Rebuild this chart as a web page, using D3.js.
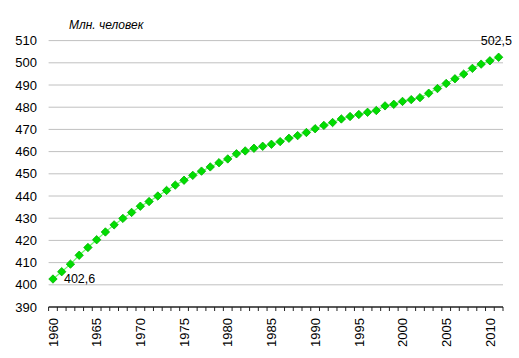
<!DOCTYPE html>
<html><head><meta charset="utf-8">
<script src="https://cdn.jsdelivr.net/npm/d3@7"></script>
<style>body{margin:0;background:#fff}svg{display:block;font-family:Arial,"Liberation Sans",sans-serif}</style>
</head><body><svg id="c" width="519" height="358"></svg>
<script>
const years = d3.range(1960, 2012);
const population = [402.6,405.9,409.3,413.3,416.8,420.3,423.8,427.0,429.9,432.6,
435.4,437.5,440.0,442.5,444.9,447.1,449.3,451.2,453.1,455.0,
456.7,459.0,460.3,461.5,462.4,463.3,464.5,466.0,467.2,468.6,
470.3,471.8,473.1,474.7,475.8,476.7,477.7,478.5,480.6,481.3,
482.6,483.4,484.3,486.3,488.4,490.7,492.8,494.9,497.5,499.4,
500.9,502.5];
const yTicks = [390,400,410,420,430,440,450,460,470,480,490,500,510];
const xLabelYears = [1960,1965,1970,1975,1980,1985,1990,1995,2000,2005,2010];
const unitLabel = "Млн. человек";

const svg = d3.select("#c");
const mLeft = 48.6, mRight = 503, mTop = 40.6, mBottom = 307;
const x = d3.scaleBand().domain(years).range([mLeft, mRight]);
const y = d3.scaleLinear().domain([390, 510]).range([mBottom, mTop]);
const cx = d => x(d) + x.bandwidth()/2;

// grid
svg.append("g").selectAll("line").data(yTicks.filter(t=>t>390)).join("line")
  .attr("x1", mLeft).attr("x2", mRight).attr("y1", d=>y(d)).attr("y2", d=>y(d))
  .attr("stroke", "#c0c0c0").attr("stroke-width", 1);

// y labels
svg.append("g").selectAll("text").data(yTicks).join("text")
  .attr("x", 37).attr("y", d=>y(d)).attr("dy", "0.35em").attr("text-anchor","end")
  .attr("font-size", 13).attr("fill","#000").text(d=>d);

// x axis line + ticks at band boundaries
svg.append("line").attr("x1", mLeft).attr("x2", mRight).attr("y1", mBottom).attr("y2", mBottom)
  .attr("stroke", "#222").attr("stroke-width", 1.3);
const bounds = years.map(d=>x(d)).concat([x(years[years.length-1]) + x.bandwidth()]);
svg.append("g").selectAll("line").data(bounds).join("line")
  .attr("x1", d=>d).attr("x2", d=>d).attr("y1", mBottom).attr("y2", mBottom+4)
  .attr("stroke", "#222").attr("stroke-width", 1);

// x labels rotated
svg.append("g").selectAll("text").data(xLabelYears).join("text")
  .attr("transform", d=>`translate(${cx(d)+4.7},318) rotate(-90)`)
  .attr("text-anchor","end").attr("font-size", 13).attr("fill","#000").text(d=>d);

// line
const data = years.map((yr,i)=>({yr, v: population[i]}));
svg.append("path").datum(data)
  .attr("d", d3.line().x(d=>cx(d.yr)).y(d=>y(d.v)))
  .attr("fill","none").attr("stroke","#66ff66").attr("stroke-width", 1.2);

// markers
svg.append("g").selectAll("path").data(data).join("path")
  .attr("transform", d=>`translate(${cx(d.yr)},${y(d.v)})`)
  .attr("d", "M0,-4.2L4.2,0L0,4.2L-4.2,0Z")
  .attr("fill","#00dd00").attr("stroke","#00b000").attr("stroke-width", 0.8);

// data labels
const first = data[0], last = data[data.length-1];
svg.append("text").attr("x", cx(first.yr)+11).attr("y", y(first.v)).attr("dy","0.35em")
  .attr("font-size", 12.5).attr("fill","#000").text(first.v.toFixed(1).replace(".", ","));
svg.append("text").attr("x", 512).attr("y", 41).attr("dy","0.35em").attr("text-anchor","end")
  .attr("font-size", 12.5).attr("fill","#000").text(last.v.toFixed(1).replace(".", ","));

// unit label
svg.append("text").attr("x", 69).attr("y", 29).attr("font-size", 12).attr("font-style","italic")
  .attr("fill","#000").text(unitLabel);
</script></body></html>
